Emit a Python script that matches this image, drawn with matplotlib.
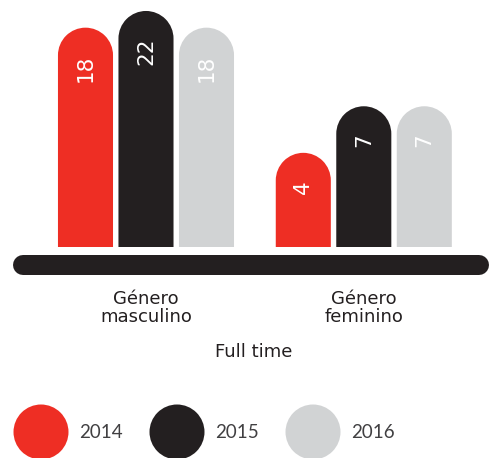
import matplotlib
matplotlib.use("Agg")
import matplotlib.pyplot as plt
import numpy as np
from matplotlib.path import Path
from matplotlib.patches import PathPatch, Circle
from matplotlib.lines import Line2D
from matplotlib import transforms

# headcount per group and year
groups = ["Género\nmasculino", "Género\nfeminino"]
years = ["2014", "2015", "2016"]
masculino = [18, 22, 18]
feminino = [4, 7, 7]
values = [masculino, feminino]
colors = ["#ee2e24", "#231f20", "#d1d3d4"]
xlabel = "Full time"

W, H = 490, 458
fig = plt.figure(figsize=(W / 100, H / 100), dpi=100)
ax = fig.add_axes([0, (H - 247) / H, 1, 247 / H])
ax.set_yscale("log")
ax.set_ylim(1.29, 25.1)
ax.set_xlim(-2.413, 5.686)
ax.axis("off")

group_pos = [0, 3.6]
width = 0.91


def rounded_bar(x, v):
    # bar with a half-circle top, built in pixel space so the cap stays round
    y_bottom = ax.get_ylim()[0]
    x0, y0 = ax.transData.transform((x - width / 2, y_bottom))
    x1, ytop = ax.transData.transform((x + width / 2, v))
    r = (x1 - x0) / 2
    xc, yc = x0 + r, ytop - r
    arc = Path.arc(0, 180)
    arc_verts = arc.vertices * r + [xc, yc]
    verts = [(x0, y0), (x1, y0), (x1, yc)] + list(arc_verts[1:]) + [(x0, y0)]
    codes = [Path.MOVETO, Path.LINETO, Path.LINETO] + list(arc.codes[1:]) + [Path.CLOSEPOLY]
    return Path(verts, codes)


label_tf = transforms.offset_copy(ax.transData, fig=fig, y=-27, units="dots")
for gi, gvals in enumerate(values):
    for yi, v in enumerate(gvals):
        x = group_pos[gi] + (yi - 1)
        patch = PathPatch(rounded_bar(x, v), facecolor=colors[yi], edgecolor="none",
                          transform=transforms.IdentityTransform(), clip_on=False)
        ax.add_patch(patch)
        ax.text(x, v, str(v), transform=label_tf, rotation=90, ha="center", va="top",
                color="white", fontsize=15.5, zorder=3)

# baseline
fig.add_artist(Line2D([23 / W, 479 / W], [1 - 265 / H] * 2, lw=14.4, color="#231f20",
                      solid_capstyle="round"))

# group labels
lab_tf = transforms.blended_transform_factory(ax.transData, fig.transFigure)
for gi, name in enumerate(groups):
    ax.text(group_pos[gi], 1 - 308 / H, name, transform=lab_tf, ha="center", va="center",
            fontsize=13, linespacing=0.95, color="#231f20")

fig.text(254 / W, 1 - 352 / H, xlabel, ha="center", va="center", fontsize=13, color="#231f20")

# legend
for i, year in enumerate(years):
    cx = 41 + 136 * i
    fig.add_artist(Circle((cx, H - 432), 27.5, facecolor=colors[i], edgecolor="none",
                          transform=transforms.IdentityTransform()))
    fig.text((cx + 38) / W, 1 - 433 / H, year, ha="left", va="center", fontsize=13.5,
             family="Lato", color="#414042")

fig.savefig("out.png", dpi=100)
